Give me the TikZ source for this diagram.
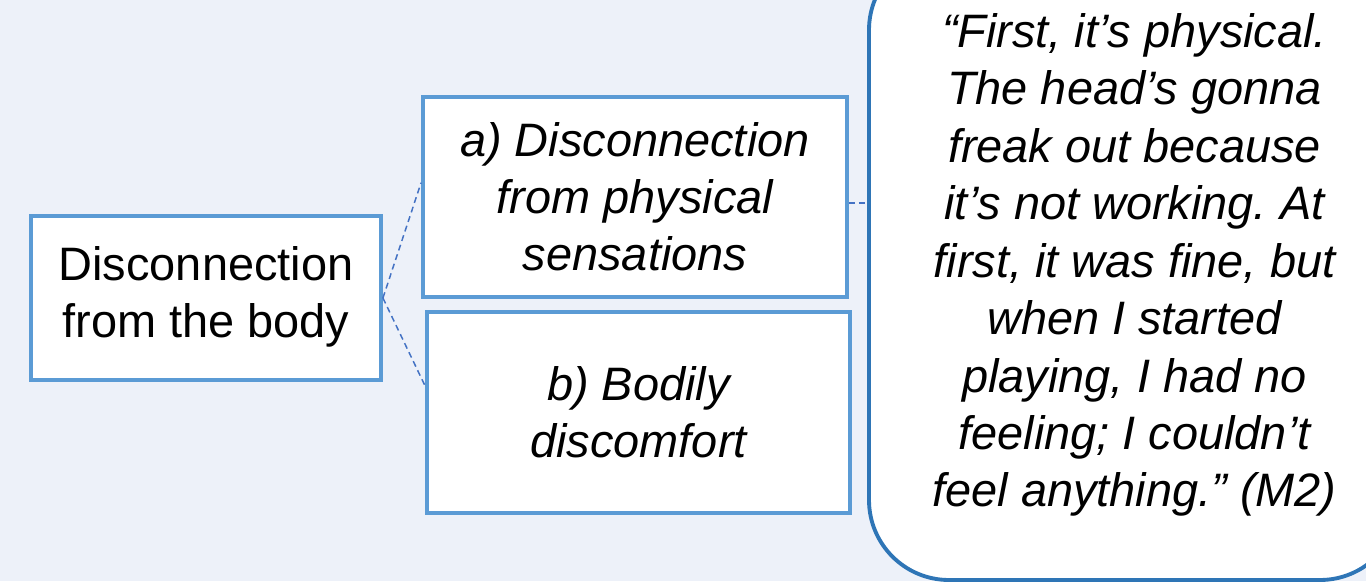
\documentclass[tikz,border=0pt]{standalone}
\usepackage{fontspec}
\setmainfont{Liberation Sans}
\usetikzlibrary{positioning,calc}
\definecolor{bgpanel}{HTML}{EDF1F9}
\definecolor{boxline}{HTML}{5B9BD5}
\definecolor{quoteline}{HTML}{2E75B6}
\definecolor{linkline}{HTML}{4472C4}
\frenchspacing

\begin{document}
\begin{tikzpicture}[
    themebox/.style={draw=boxline, line width=2.2pt, fill=white, align=center,
        inner sep=0pt, font=\fontsize{26.7}{32.5}\selectfont},
    quotebox/.style={draw=quoteline, line width=2.2pt, fill=white, align=center,
        rounded corners=1.6cm, inner sep=0pt,
        font=\fontsize{26.7}{32.7}\selectfont\itshape},
    link/.style={draw=linkline, line width=0.85pt, dash pattern=on 3.4pt off 2.3pt}
]
\useasboundingbox (0,0) rectangle (27.32,11.62);
\clip (0,0) rectangle (27.32,11.62);
\fill[bgpanel] (0,0) rectangle (27.32,11.62);

% Theme, its two sub-themes, and the supporting quote
\node[themebox, minimum width=7.0cm, minimum height=3.28cm] (body) at (4.12,5.66)
    {\raisebox{-0.1cm}{\begin{tabular}{@{}c@{}}Disconnection\\from the body\end{tabular}}};
\node[themebox, minimum width=8.48cm, minimum height=4.0cm, font=\fontsize{26.7}{32.5}\selectfont\itshape]
    (sensation) at (12.7,7.68) {a) Disconnection\\from physical\\sensations};
\node[themebox, minimum width=8.46cm, minimum height=4.02cm, font=\fontsize{26.7}{32.5}\selectfont\itshape]
    (discomfort) at (12.77,3.37) {b) Bodily\\discomfort};
\node[quotebox, minimum width=10.62cm, minimum height=12.6cm] (quote) at (22.69,6.32)
    {“First, it’s physical.\\The head’s gonna\\freak out because\\it’s not working. At\\first, it was fine, but\\when I started\\playing, I had no\\feeling; I couldn’t\\feel anything.” (M2)};

\draw[link] (body.east) -- ($(sensation.north west)!0.43!(sensation.south west)$);
\draw[link] (body.east) -- ($(discomfort.north west)!0.37!(discomfort.south west)$);
\draw[link] ([yshift=-1.2mm]sensation.east) -- ([yshift=-1.2mm]sensation.east -| quote.west);
\end{tikzpicture}
\end{document}
